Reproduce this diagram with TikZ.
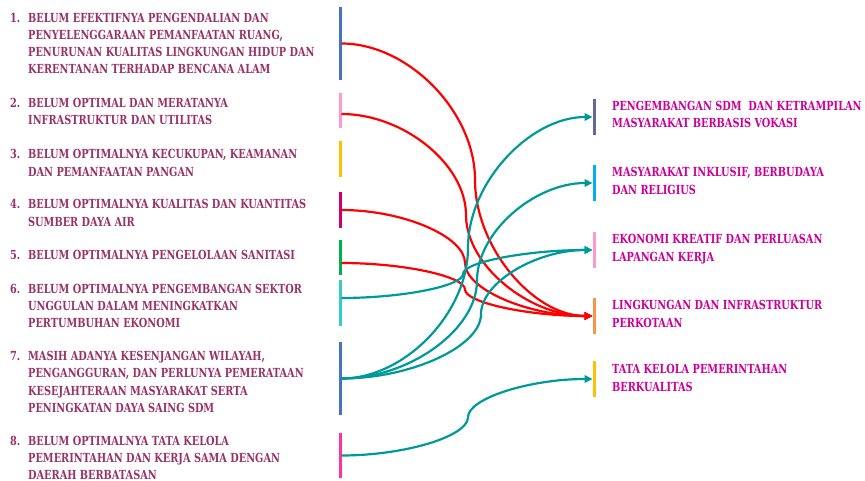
\documentclass[tikz,border=0pt]{standalone}
\usepackage{fontspec}
\setmainfont{DejaVu Serif}[FakeStretch=0.78]
\usetikzlibrary{arrows.meta,calc}
\definecolor{lefttxt}{RGB}{153,51,102}
\definecolor{righttxt}{RGB}{204,0,153}
\definecolor{tealc}{RGB}{0,153,153}
\definecolor{redc}{RGB}{255,0,0}
\definecolor{cblue}{RGB}{68,114,196}
\definecolor{cpink}{RGB}{255,153,204}
\definecolor{cgold}{RGB}{255,192,0}
\definecolor{cmag}{RGB}{204,0,102}
\definecolor{cgreen}{RGB}{0,176,80}
\definecolor{cturq}{RGB}{51,204,204}
\definecolor{chot}{RGB}{255,51,153}
\definecolor{cslate}{RGB}{102,102,153}
\definecolor{csky}{RGB}{0,176,240}
\definecolor{corange}{RGB}{247,150,70}
\newcommand\curveconn[4]{%
  \draw[#1] let \p1=(#2), \p2=(#3) in
    (\p1) .. controls ({(\x1+#4pt)/2},\y1) and (#4pt,{\y1+(\y2-\y1)/4}) .. (#4pt,{(\y1+\y2)/2})
    .. controls (#4pt,{\y1+3*(\y2-\y1)/4}) and ({(#4pt+\x2)/2},\y2) .. (\p2);}
\newcommand\itm[1]{\makebox[18pt][l]{#1}}
\begin{document}
\begin{tikzpicture}[x=1pt,y=-1pt,
  bar/.style={fill=#1, draw=none, minimum width=3pt, inner sep=0pt, outer sep=0pt, anchor=north},
  ltext/.style={anchor=west, inner sep=0pt, text=lefttxt, font=\fontsize{12.5}{17.2}\selectfont\bfseries},
  rtext/.style={anchor=west, inner sep=0pt, text=righttxt, font=\fontsize{12.5}{17.2}\selectfont\bfseries},
  tealconn/.style={draw=tealc, line width=2.2pt, -{Triangle[length=8pt,width=7.5pt]}},
  redconn/.style={draw=redc, line width=2.2pt, -{Triangle[length=8pt,width=7.5pt]}}]
\useasboundingbox (0,0) rectangle (865,481);
% left bars
\node[bar=cblue, minimum height=73pt] (b1) at (340,7) {};
\node[bar=cpink, minimum height=35pt] (b2) at (340,93) {};
\node[bar=cgold, minimum height=36pt] (b3) at (340,141) {};
\node[bar=cmag, minimum height=36pt] (b4) at (340,192) {};
\node[bar=cgreen, minimum height=35pt] (b5) at (340,240) {};
\node[bar=cturq, minimum height=46pt] (b6) at (340,280) {};
\node[bar=cblue, minimum height=73pt] (b7) at (340,342) {};
\node[bar=chot, minimum height=45pt] (b8) at (340,433) {};
% right bars
\node[bar=cslate, minimum height=36pt] (rA) at (594,99) {};
\node[bar=csky, minimum height=36pt] (rB) at (594,165) {};
\node[bar=cpink, minimum height=36pt] (rC) at (594,232) {};
\node[bar=corange, minimum height=36pt] (rD) at (594,298) {};
\node[bar=cgold, minimum height=36pt] (rE) at (594,361) {};
% left texts
\node[ltext] (t1) at (10,44.5) {\begin{tabular}{@{}l@{}l@{}}\itm{1.}&BELUM EFEKTIFNYA PENGENDALIAN DAN\\ &PENYELENGGARAAN PEMANFAATAN RUANG,\\ &PENURUNAN KUALITAS LINGKUNGAN HIDUP DAN\\ &KERENTANAN TERHADAP BENCANA ALAM\end{tabular}};
\node[ltext] (t2) at (10,112.5) {\begin{tabular}{@{}l@{}l@{}}\itm{2.}&BELUM OPTIMAL DAN MERATANYA\\ &INFRASTRUKTUR DAN UTILITAS\end{tabular}};
\node[ltext] (t3) at (10,164) {\begin{tabular}{@{}l@{}l@{}}\itm{3.}&BELUM OPTIMALNYA KECUKUPAN, KEAMANAN\\ &DAN PEMANFAATAN PANGAN\end{tabular}};
\node[ltext] (t4) at (10,214) {\begin{tabular}{@{}l@{}l@{}}\itm{4.}&BELUM OPTIMALNYA KUALITAS DAN KUANTITAS\\ &SUMBER DAYA AIR\end{tabular}};
\node[ltext] (t5) at (10,256) {\begin{tabular}{@{}l@{}l@{}}\itm{5.}&BELUM OPTIMALNYA PENGELOLAAN SANITASI\end{tabular}};
\node[ltext] (t6) at (10,307) {\begin{tabular}{@{}l@{}l@{}}\itm{6.}&BELUM OPTIMALNYA PENGEMBANGAN SEKTOR\\ &UNGGULAN DALAM MENINGKATKAN\\ &PERTUMBUHAN EKONOMI\end{tabular}};
\node[ltext] (t7) at (10,383) {\begin{tabular}{@{}l@{}l@{}}\itm{7.}&MASIH ADANYA KESENJANGAN WILAYAH,\\ &PENGANGGURAN, DAN PERLUNYA PEMERATAAN\\ &KESEJAHTERAAN MASYARAKAT SERTA\\ &PENINGKATAN DAYA SAING SDM\end{tabular}};
\node[ltext] (t8) at (10,459) {\begin{tabular}{@{}l@{}l@{}}\itm{8.}&BELUM OPTIMALNYA TATA KELOLA\\ &PEMERINTAHAN DAN KERJA SAMA DENGAN\\ &DAERAH BERBATASAN\end{tabular}};
% right texts
\node[rtext] (tA) at (612,115.5) {\begin{tabular}{@{}l@{}}PENGEMBANGAN SDM\ \ DAN KETRAMPILAN\\ MASYARAKAT BERBASIS VOKASI\end{tabular}};
\node[rtext] (tB) at (612,182) {\begin{tabular}{@{}l@{}}MASYARAKAT INKLUSIF, BERBUDAYA\\ DAN RELIGIUS\end{tabular}};
\node[rtext] (tC) at (612,249) {\begin{tabular}{@{}l@{}}EKONOMI KREATIF DAN PERLUASAN\\ LAPANGAN KERJA\end{tabular}};
\node[rtext] (tD) at (612,315) {\begin{tabular}{@{}l@{}}LINGKUNGAN DAN INFRASTRUKTUR\\ PERKOTAAN\end{tabular}};
\node[rtext] (tE) at (612,379) {\begin{tabular}{@{}l@{}}TATA KELOLA PEMERINTAHAN\\ BERKUALITAS\end{tabular}};
% red connectors
\curveconn{redconn}{b1.east}{rD.west}{475}
\curveconn{redconn}{[yshift=-3.5pt]b2.east}{rD.west}{466}
\curveconn{redconn}{b4.east}{rD.west}{465}
\curveconn{redconn}{[yshift=-5.5pt]b5.east}{rD.west}{465}
% teal connectors
\curveconn{tealconn}{[yshift=5pt]b6.east}{rC.west}{463}
\curveconn{tealconn}{b7.east}{rA.west}{468}
\curveconn{tealconn}{b7.east}{rB.west}{477}
\curveconn{tealconn}{b7.east}{rC.west}{481}
\curveconn{tealconn}{b8.east}{rE.west}{468}
\end{tikzpicture}
\end{document}
